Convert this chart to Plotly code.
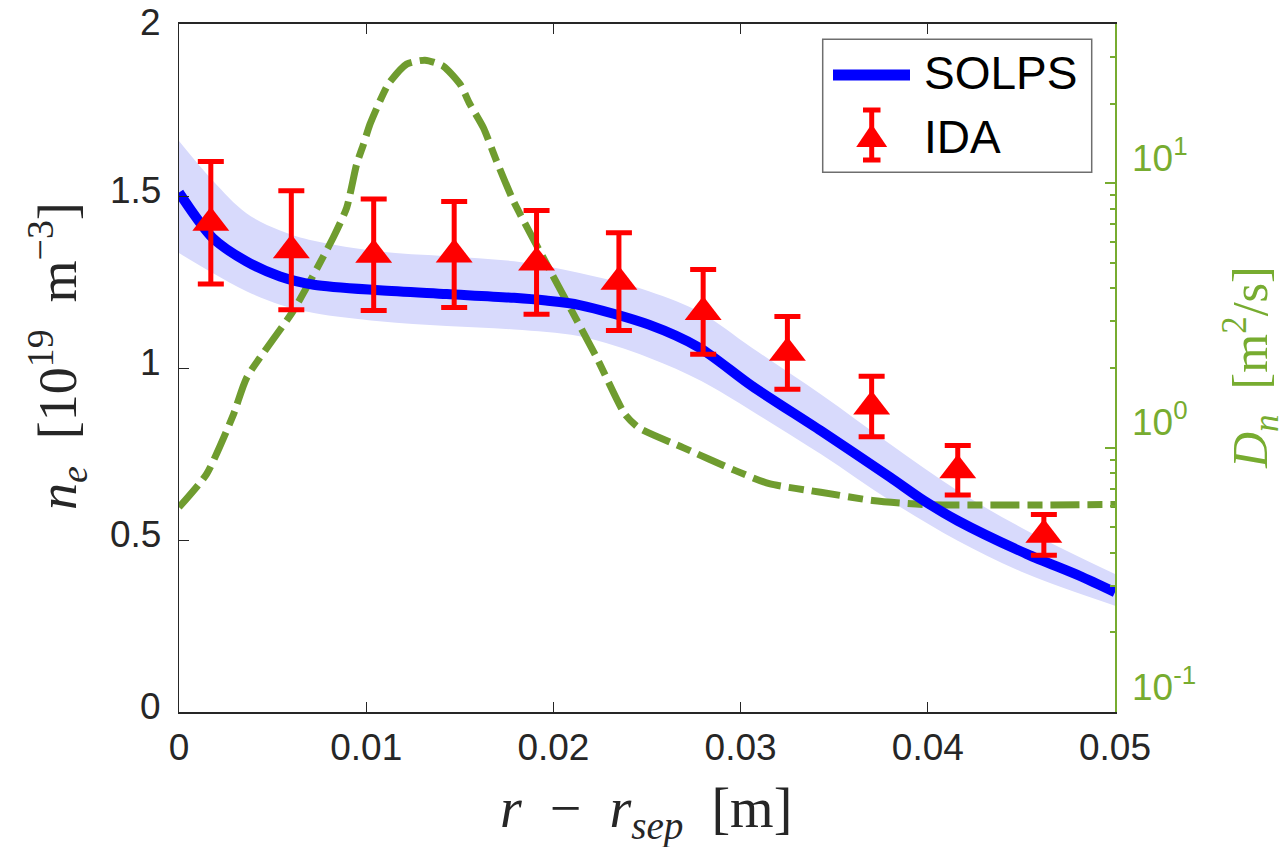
import numpy as np
import plotly.graph_objects as go

# ---------------- data ----------------
# SOLPS electron density profile [1e19 m^-3]
solps_x = [0.0, 0.0018, 0.0036, 0.0054, 0.0072, 0.0107, 0.0143, 0.0179, 0.0196, 0.0214,
           0.0251, 0.0278, 0.0306, 0.0343, 0.0380, 0.0398, 0.0416, 0.0453, 0.0481, 0.0500]
solps_ne = [1.51, 1.378, 1.31, 1.266, 1.242, 1.226, 1.215, 1.204, 1.196, 1.183,
            1.126, 1.059, 0.948, 0.817, 0.682, 0.614, 0.556, 0.459, 0.396, 0.348]

# uncertainty band of the SOLPS profile
band_x = [0.0, 0.0018, 0.0036, 0.0054, 0.0072, 0.0107, 0.0143, 0.0179, 0.0214,
          0.0251, 0.0279, 0.0306, 0.0343, 0.0380, 0.0416, 0.0453, 0.0500]
band_hi = [1.66, 1.545, 1.45, 1.40, 1.37, 1.339, 1.325, 1.310, 1.276,
           1.223, 1.160, 1.059, 0.923, 0.778, 0.643, 0.527, 0.401]
band_lo = [1.334, 1.276, 1.223, 1.184, 1.160, 1.136, 1.122, 1.112, 1.092,
           1.030, 0.962, 0.875, 0.749, 0.614, 0.498, 0.401, 0.309]

# IDA measurements
ida_x = [0.0017, 0.0060, 0.0104, 0.0147, 0.0191, 0.0235, 0.0280, 0.0325, 0.0370, 0.0416, 0.0462]
ida_ne = [1.422, 1.342, 1.329, 1.330, 1.307, 1.251, 1.163, 1.044, 0.888, 0.703, 0.515]
ida_err = [0.178, 0.173, 0.162, 0.154, 0.151, 0.142, 0.123, 0.106, 0.088, 0.072, 0.059]

# particle diffusion coefficient D_n [m^2/s]
dn_x = [0.0, 0.00148, 0.0029, 0.00362, 0.0061, 0.00824, 0.00896, 0.00949, 0.00985, 0.0102,
        0.01074, 0.01118, 0.01216, 0.01314, 0.01412, 0.01501, 0.01554, 0.01626, 0.01697,
        0.01786, 0.01964, 0.02231, 0.02381, 0.02455, 0.02693, 0.02969, 0.03153, 0.03428,
        0.03704, 0.0398, 0.05]
dn_val = [0.595, 0.796, 1.33, 1.84, 3.29, 6.23, 8.09, 11.8, 14.0, 16.7,
          20.5, 23.7, 28.2, 29.2, 27.7, 23.7, 19.9, 16.2, 12.1,
          8.58, 4.94, 2.19, 1.34, 1.19, 1.0, 0.82, 0.73, 0.678,
          0.631, 0.609, 0.609]

x_ticks = [0, 0.01, 0.02, 0.03, 0.04, 0.05]
x_ticktext = ["0", "0.01", "0.02", "0.03", "0.04", "0.05"]
ne_ticks = [0, 0.5, 1, 1.5, 2]
ne_ticktext = ["0", "0.5", "1", "1.5", "2"]
dn_ticks = [0.1, 1, 10]
dn_ticktext = ["10<sup>-1</sup>", "10<sup>0</sup>", "10<sup>1</sup>"]
dn_minor = [0.2, 0.3, 0.4, 0.5, 0.6, 0.7, 0.8, 0.9,
            2, 3, 4, 5, 6, 7, 8, 9, 20, 30, 40]

# ---------------- styling ----------------
W, H = 1286, 847
L, R, T, B = 179, 171, 24, 135
PW, PH = W - L - R, H - T - B
AX = "#262626"
GREEN_AX = "#77ac30"
GREEN_LN = "#6f9c2f"
BAND = "#d8dafc"
SANS = "Liberation Sans, Arial, sans-serif"
SERIF = "Liberation Serif, Times New Roman, serif"


def px_x(p):
    return (p - L) / PW


def px_y(p):
    return (H - B - p) / PH


fig = go.Figure()

# band (bottom layer)
fig.add_trace(go.Scatter(x=band_x, y=band_hi, mode="lines", line=dict(width=0, shape="spline"),
                         hoverinfo="skip", showlegend=False, xaxis="x", yaxis="y"))
fig.add_trace(go.Scatter(x=band_x, y=band_lo, mode="lines", line=dict(width=0, shape="spline"),
                         fill="tonexty", fillcolor=BAND, hoverinfo="skip", showlegend=False,
                         xaxis="x", yaxis="y"))

# D_n on the logarithmic right axis
fig.add_trace(go.Scatter(x=dn_x, y=dn_val, mode="lines", name="D_n",
                         line=dict(color=GREEN_LN, width=7, dash="29px,8px,15px,8px",
                                   shape="spline", smoothing=0.6),
                         showlegend=False, xaxis="x", yaxis="y2"))

# SOLPS profile and IDA points on top
fig.add_trace(go.Scatter(x=solps_x, y=solps_ne, mode="lines", name="SOLPS",
                         line=dict(color="#0000ff", width=10, shape="spline", smoothing=0.8),
                         showlegend=False, xaxis="x", yaxis="y3"))
fig.add_trace(go.Scatter(x=ida_x, y=ida_ne, mode="markers", name="IDA",
                         marker=dict(symbol="triangle-up", size=32, color="#ff0000"),
                         error_y=dict(type="data", array=ida_err, visible=True,
                                      color="#ff0000", thickness=5, width=13),
                         showlegend=False, xaxis="x", yaxis="y3"))

tickfont = dict(family=SANS, size=37, color=AX)

fig.update_layout(
    width=W, height=H,
    margin=dict(l=L, r=R, t=T, b=B, autoexpand=False),
    paper_bgcolor="white", plot_bgcolor="white",
    showlegend=False,
    xaxis=dict(range=[0, 0.05], tickvals=x_ticks, ticktext=x_ticktext,
               ticks="inside", ticklen=10, tickwidth=1.2, tickcolor=AX,
               showline=True, linecolor=AX, linewidth=1.5, mirror="ticks",
               showgrid=False, zeroline=False, tickfont=tickfont,
               ticklabelstandoff=2),
    yaxis=dict(range=[0, 2], tickvals=ne_ticks, showticklabels=False,
               ticks="inside", ticklen=10, tickwidth=1.2, tickcolor=AX,
               showline=True, linecolor=AX, linewidth=1.2,
               showgrid=False, zeroline=False),
    yaxis2=dict(type="log", range=[-1, np.log10(40)], overlaying="y", side="right",
                tickvals=dn_ticks, showticklabels=False,
                ticks="inside", ticklen=10, tickwidth=1.5, tickcolor=GREEN_AX,
                minor=dict(tickvals=dn_minor, ticks="inside", ticklen=5,
                           tickwidth=1.5, tickcolor=GREEN_AX, showgrid=False),
                showline=True, linecolor=GREEN_AX, linewidth=2,
                showgrid=False, zeroline=False),
    yaxis3=dict(range=[0, 2], overlaying="y", visible=False, showgrid=False),
)

annotations = []
# left-axis labels, set slightly above their ticks (the top one kept inside the page)
for v, t in zip(ne_ticks, ne_ticktext):
    annotations.append(dict(text=t, x=0, xref="paper", xanchor="right", xshift=-16,
                            y=v, yref="y", yanchor="middle", yshift=6 if v < 2 else 2,
                            showarrow=False, font=tickfont))
# right-axis decade labels
for v, t in zip(dn_ticks, dn_ticktext):
    annotations.append(dict(text=t, x=1, xref="paper", xanchor="left", xshift=15,
                            y=np.log10(v), yref="y2", yanchor="middle", yshift=28,
                            showarrow=False, font=dict(family=SANS, size=37, color=GREEN_AX)))

# axis titles
annotations.append(dict(text="<i>r</i>  −  <i>r</i><sub><i>sep</i></sub>  [m]",
                        x=px_x(646), y=px_y(812), xref="paper", yref="paper",
                        xanchor="center", yanchor="middle", showarrow=False,
                        font=dict(family=SERIF, size=56, color=AX)))
annotations.append(dict(text="<i>n</i><sub><i>e</i></sub>  [10<sup>19</sup>  m<sup>−3</sup>]",
                        x=px_x(57), y=px_y(356), xref="paper", yref="paper",
                        xanchor="center", yanchor="middle", textangle=-90, showarrow=False,
                        font=dict(family=SERIF, size=54, color=AX)))
annotations.append(dict(text="<i>D</i><sub><i>n</i></sub>  [m<sup>2</sup>/s]",
                        x=px_x(1250), y=px_y(368), xref="paper", yref="paper",
                        xanchor="center", yanchor="middle", textangle=-90, showarrow=False,
                        font=dict(family=SERIF, size=50, color=GREEN_AX)))

# legend entries
annotations.append(dict(text="SOLPS", x=px_x(922), y=px_y(73), xref="paper", yref="paper",
                        xanchor="left", yanchor="middle", showarrow=False,
                        font=dict(family=SANS, size=46, color="black")))
annotations.append(dict(text="IDA", x=px_x(922), y=px_y(137), xref="paper", yref="paper",
                        xanchor="left", yanchor="middle", showarrow=False,
                        font=dict(family=SANS, size=46, color="black")))

shapes = [
    dict(type="rect", xref="paper", yref="paper", x0=px_x(822.7), x1=px_x(1091.7),
         y0=px_y(172.3), y1=px_y(39.3), line=dict(color="#6e6e6e", width=1.5),
         fillcolor="white", layer="above"),
    dict(type="line", xref="paper", yref="paper", x0=px_x(833), x1=px_x(910),
         y0=px_y(75), y1=px_y(75), line=dict(color="#0000ff", width=11)),
    # IDA glyph: error bar and triangle
    dict(type="line", xref="paper", yref="paper", x0=px_x(871.7), x1=px_x(871.7),
         y0=px_y(110), y1=px_y(160), line=dict(color="#ff0000", width=5)),
    dict(type="line", xref="paper", yref="paper", x0=px_x(863), x1=px_x(880.5),
         y0=px_y(110), y1=px_y(110), line=dict(color="#ff0000", width=5)),
    dict(type="line", xref="paper", yref="paper", x0=px_x(863), x1=px_x(880.5),
         y0=px_y(160), y1=px_y(160), line=dict(color="#ff0000", width=5)),
    dict(type="path", xref="paper", yref="paper",
         path="M {:.5f} {:.5f} L {:.5f} {:.5f} L {:.5f} {:.5f} Z".format(
             px_x(871.7), px_y(124), px_x(856.2), px_y(147), px_x(887.2), px_y(147)),
         fillcolor="#ff0000", line=dict(color="#ff0000", width=0)),
]

fig.update_layout(annotations=annotations, shapes=shapes)

fig.write_html("out.html")
